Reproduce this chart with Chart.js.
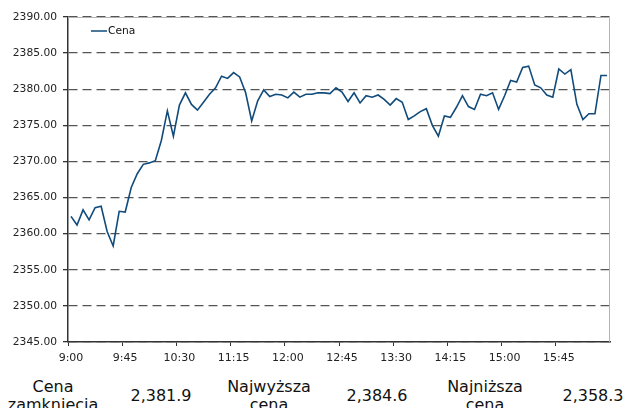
<!DOCTYPE html>
<html>
<head>
<meta charset="utf-8">
<script src="https://cdn.jsdelivr.net/npm/chart.js@4"></script>
<style>
  html, body { margin: 0; padding: 0; background: #fff; overflow: hidden; }
  body { width: 627px; height: 408px; position: relative; font-family: "DejaVu Sans", Verdana, sans-serif; }
  #wrap { position: absolute; left: 0; top: 0; width: 627px; height: 372px; }
  #stats { position: absolute; top: 378px; left: -1px; display: flex; align-items: center; }
  #stats div { width: 108px; text-align: center; font-size: 16px; line-height: 18px; color: #111; }
</style>
</head>
<body>
<div id="wrap"><canvas id="myChart" width="627" height="372"></canvas></div>
<div id="stats"></div>
<script>
// godziny notowan co 5 minut, 9:00 - 16:25
const godziny = []
for (let m = 0; m < 450; m += 5) {
  let h = 9 + Math.floor(m / 60)
  let mm = m % 60
  godziny.push(h + ":" + (mm < 10 ? "0" + mm : mm))
}

const cena = [
  2362.4, 2361.2, 2363.3, 2361.9, 2363.6, 2363.8, 2360.3, 2358.3, 2363.1, 2363.0,
  2366.4, 2368.3, 2369.6, 2369.8, 2370.1, 2372.9, 2377.0, 2373.5, 2377.8, 2379.5,
  2377.9, 2377.1, 2378.2, 2379.3, 2380.2, 2381.8, 2381.5, 2382.3, 2381.7, 2379.5,
  2375.6, 2378.4, 2379.9, 2379.0, 2379.3, 2379.2, 2378.8, 2379.6, 2378.9, 2379.3,
  2379.3, 2379.5, 2379.5, 2379.4, 2380.2, 2379.6, 2378.3, 2379.5, 2378.1, 2379.1,
  2378.9, 2379.2, 2378.6, 2377.8, 2378.7, 2378.2, 2375.8, 2376.3, 2376.9, 2377.3,
  2375.0, 2373.5, 2376.3, 2376.1, 2377.5, 2379.1, 2377.6, 2377.2, 2379.3, 2379.1,
  2379.5, 2377.2, 2379.1, 2381.2, 2381.0, 2383.0, 2383.2, 2380.6, 2380.2, 2379.2,
  2378.9, 2382.8, 2382.1, 2382.7, 2377.9, 2375.8, 2376.6, 2376.6, 2381.9, 2381.9
]

const osY = { min: 2345, max: 2390, krok: 5 }
const coIle = 9 // etykieta co 45 minut

const statEtykiety = ["Cena<br>zamknięcia", "Najwyższa<br>cena", "Najniższa<br>cena"]
const statWartosci = ["2,381.9", "2,384.6", "2,358.3"]

const kolor = "#104b7b"

// tabelka pod wykresem
let html = ""
statEtykiety.forEach((e, i) => {
  html += `<div>${e}</div><div>${statWartosci[i]}</div>`
})
document.querySelector("#stats").innerHTML = html

// ramka (gora i prawa strona) + legenda w obszarze wykresu
const ramka = {
  id: "ramka",
  afterDraw(chart) {
    const { ctx, chartArea: a } = chart
    ctx.save()
    ctx.strokeStyle = "#b4b4b4"
    ctx.lineWidth = 1
    ctx.beginPath()
    ctx.moveTo(a.left, a.top + 0.5)
    ctx.lineTo(a.right - 0.5, a.top + 0.5)
    ctx.lineTo(a.right - 0.5, a.bottom)
    ctx.stroke()

    const ds = chart.data.datasets[0]
    const x = a.left + 23, y = a.top + 14
    ctx.strokeStyle = ds.borderColor
    ctx.lineWidth = 1.5
    ctx.beginPath()
    ctx.moveTo(x, y)
    ctx.lineTo(x + 16, y)
    ctx.stroke()
    ctx.fillStyle = "#111"
    ctx.font = '10.7px "DejaVu Sans"'
    ctx.textBaseline = "middle"
    ctx.fillText(ds.label, x + 17, y)
    ctx.restore()
  }
}

const ctx = document.getElementById("myChart").getContext("2d")

new Chart(ctx, {
  type: "line",
  data: {
    labels: godziny,
    datasets: [{
      label: "Cena",
      data: cena,
      borderColor: kolor,
      borderWidth: 1.6,
      pointRadius: 0,
      tension: 0,
      fill: false
    }]
  },
  options: {
    responsive: false,
    animation: false,
    events: [],
    layout: { padding: { left: 0, right: 17, top: 17, bottom: 0 } },
    plugins: {
      legend: { display: false },
      tooltip: { enabled: false }
    },
    scales: {
      x: {
        type: "category",
        offset: true,
        afterFit: s => { s.height = 30 },
        grid: {
          offset: true,
          drawOnChartArea: false,
          tickLength: 4,
          tickColor: c => (c.index % coIle === 0 ? "#333" : "rgba(0,0,0,0)")
        },
        border: { color: "#333", width: 1.5 },
        ticks: {
          autoSkip: false,
          maxRotation: 0,
          padding: 6,
          color: "#222",
          font: { family: "DejaVu Sans", size: 11 },
          callback: (v, i) => (i % coIle === 0 ? godziny[i] : "")
        }
      },
      y: {
        min: osY.min,
        max: osY.max,
        afterFit: s => { s.width = 68 },
        grid: {
          color: "#555",
          lineWidth: 1.3,
          tickLength: 5,
          tickColor: "#333"
        },
        border: { color: "#333", width: 1.5, dash: [9, 5] },
        ticks: {
          stepSize: osY.krok,
          autoSkip: false,
          padding: 6,
          color: "#222",
          font: { family: "DejaVu Sans", size: 10.7 },
          callback: v => v.toFixed(2)
        }
      }
    }
  },
  plugins: [ramka]
})
</script>
</body>
</html>
